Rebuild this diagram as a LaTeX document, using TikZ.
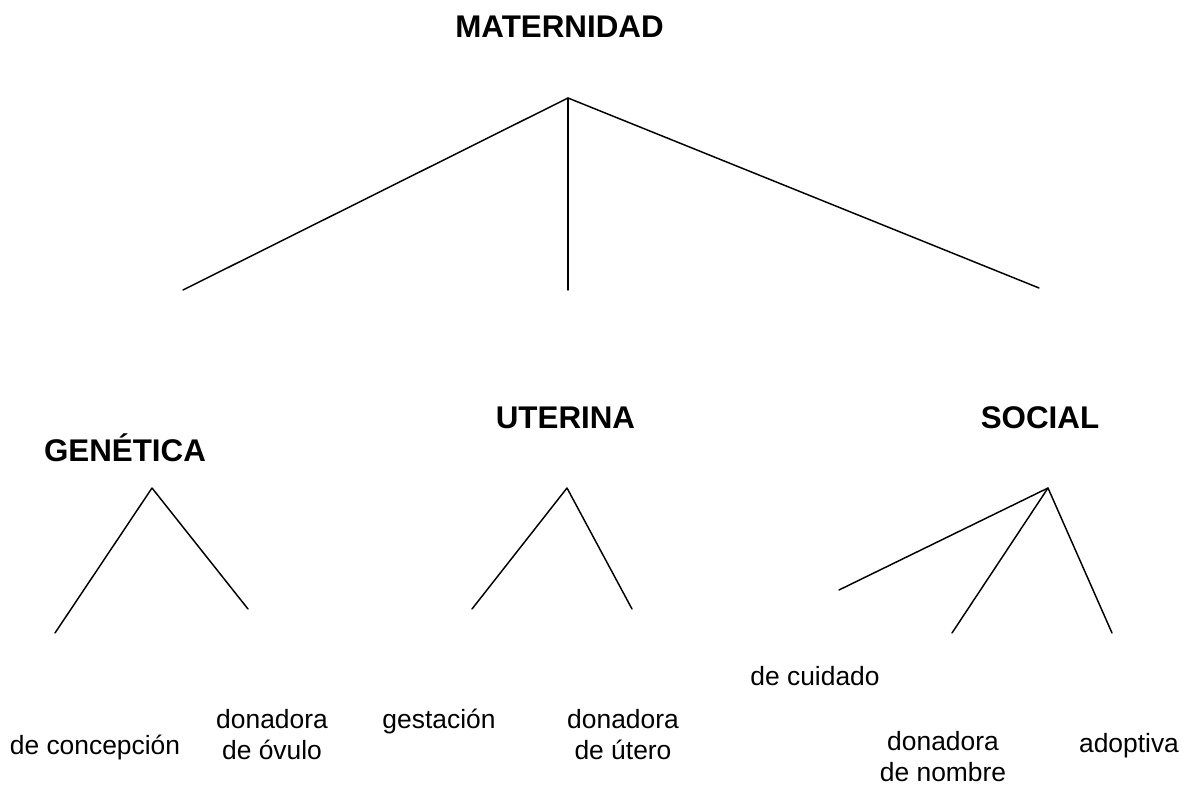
\documentclass[tikz,border=0pt]{standalone}
\usepackage{fontspec}
\setmainfont{Liberation Sans}
\begin{document}
\begin{tikzpicture}[x=0.75pt,y=-0.75pt,
  head/.style={anchor=base,inner sep=0pt,font=\fontsize{23.5}{28}\selectfont\bfseries},
  leaf/.style={anchor=base,inner sep=0pt,align=center,font=\fontsize{19.8}{23.25}\selectfont},
  branch/.style={line width=1.1pt,line cap=round,line join=round}]
\useasboundingbox (0,0) rectangle (1182,787);
% headings
\node[head] (mat) at (559.5,38) {MATERNIDAD};
\node[head] (gen) at (125,462) {GENÉTICA};
\node[head] (ute) at (565.5,429) {UTERINA};
\node[head] (soc) at (1040,429) {SOCIAL};
% leaves (base anchor = baseline of the last line)
\node[leaf] (conc) at (95,754) {de concepción};
\node[leaf] (ovu) at (272,759) {donadora\\de óvulo};
\node[leaf] (gest) at (439,728) {gestación};
\node[leaf] (uter) at (623,759) {donadora\\de útero};
\node[leaf] (cuid) at (815,685) {de cuidado};
\node[leaf] (nomb) at (943,781) {donadora\\de nombre};
\node[leaf] (adop) at (1129,752) {adoptiva};
% apexes and ends
\coordinate (a0) at (568,98);
\coordinate (e1) at (183,290);
\coordinate (e2) at (568,290);
\coordinate (e3) at (1039,288);
\coordinate (a1) at (152,488);
\coordinate (g1) at (55,633);
\coordinate (g2) at (248,609);
\coordinate (a2) at (567,488);
\coordinate (u1) at (472,609);
\coordinate (u2) at (632,609);
\coordinate (a3) at (1048,488);
\coordinate (s1) at (839,590);
\coordinate (s2) at (952,633);
\coordinate (s3) at (1112,633);
\draw[branch] (e1) -- (a0) -- (e3);
\draw[branch] (a0) -- (e2);
\draw[branch] (g1) -- (a1) -- (g2);
\draw[branch] (u1) -- (a2) -- (u2);
\draw[branch] (s1) -- (a3) -- (s3);
\draw[branch] (a3) -- (s2);
\end{tikzpicture}
\end{document}
